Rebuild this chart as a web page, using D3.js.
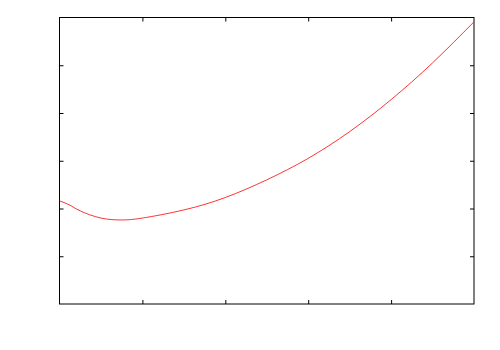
<!DOCTYPE html>
<html><head><meta charset="utf-8">
<script src="https://cdn.jsdelivr.net/npm/d3@7"></script>
<style>html,body{margin:0;padding:0;background:#fff;}</style>
</head><body>
<svg id="c" width="500" height="350"></svg>
<script>
const xValues = [0, 0.125, 0.25, 0.5, 0.75, 1, 1.5, 2, 2.5, 3, 3.5, 4, 4.5, 5];
const yValues = [2.16, 2.07, 1.95, 1.80, 1.76, 1.80, 1.97, 2.23, 2.60, 3.05, 3.61, 4.28, 5.05, 5.91];
const xTicks = [1, 2, 3, 4];
const yTicks = [1, 2, 3, 4, 5];

const svg = d3.select("#c");
const L = 59.5, R = 474, T = 17.5, B = 304;
const x = d3.scaleLinear().domain([0, 5]).range([L, R]);
const y = d3.scaleLinear().domain([0, 6]).range([B, T]);

const tk = 4;
svg.append("g").attr("transform", `translate(0,${B})`)
  .call(d3.axisBottom(x).tickValues(xTicks).tickSize(-tk).tickSizeOuter(0).tickFormat(""));
svg.append("g").attr("transform", `translate(0,${T})`)
  .call(d3.axisTop(x).tickValues(xTicks).tickSize(-tk).tickSizeOuter(0).tickFormat(""));
svg.append("g").attr("transform", `translate(${L},0)`)
  .call(d3.axisLeft(y).tickValues(yTicks).tickSize(-tk).tickSizeOuter(0).tickFormat(""));
svg.append("g").attr("transform", `translate(${R},0)`)
  .call(d3.axisRight(y).tickValues(yTicks).tickSize(-tk).tickSizeOuter(0).tickFormat(""));
svg.selectAll(".domain").remove();
svg.selectAll(".tick line").attr("stroke", "#000");

svg.append("rect").attr("x", L).attr("y", T).attr("width", R - L).attr("height", B - T)
  .attr("fill", "none").attr("stroke", "#000").attr("stroke-width", 1);

const data = xValues.map((v, i) => [v, yValues[i]]);
svg.append("path").datum(data)
  .attr("fill", "none").attr("stroke", "#ff0000").attr("stroke-width", 0.8)
  .attr("d", d3.line().x(d => x(d[0])).y(d => y(d[1])).curve(d3.curveNatural));
</script>
</body></html>
